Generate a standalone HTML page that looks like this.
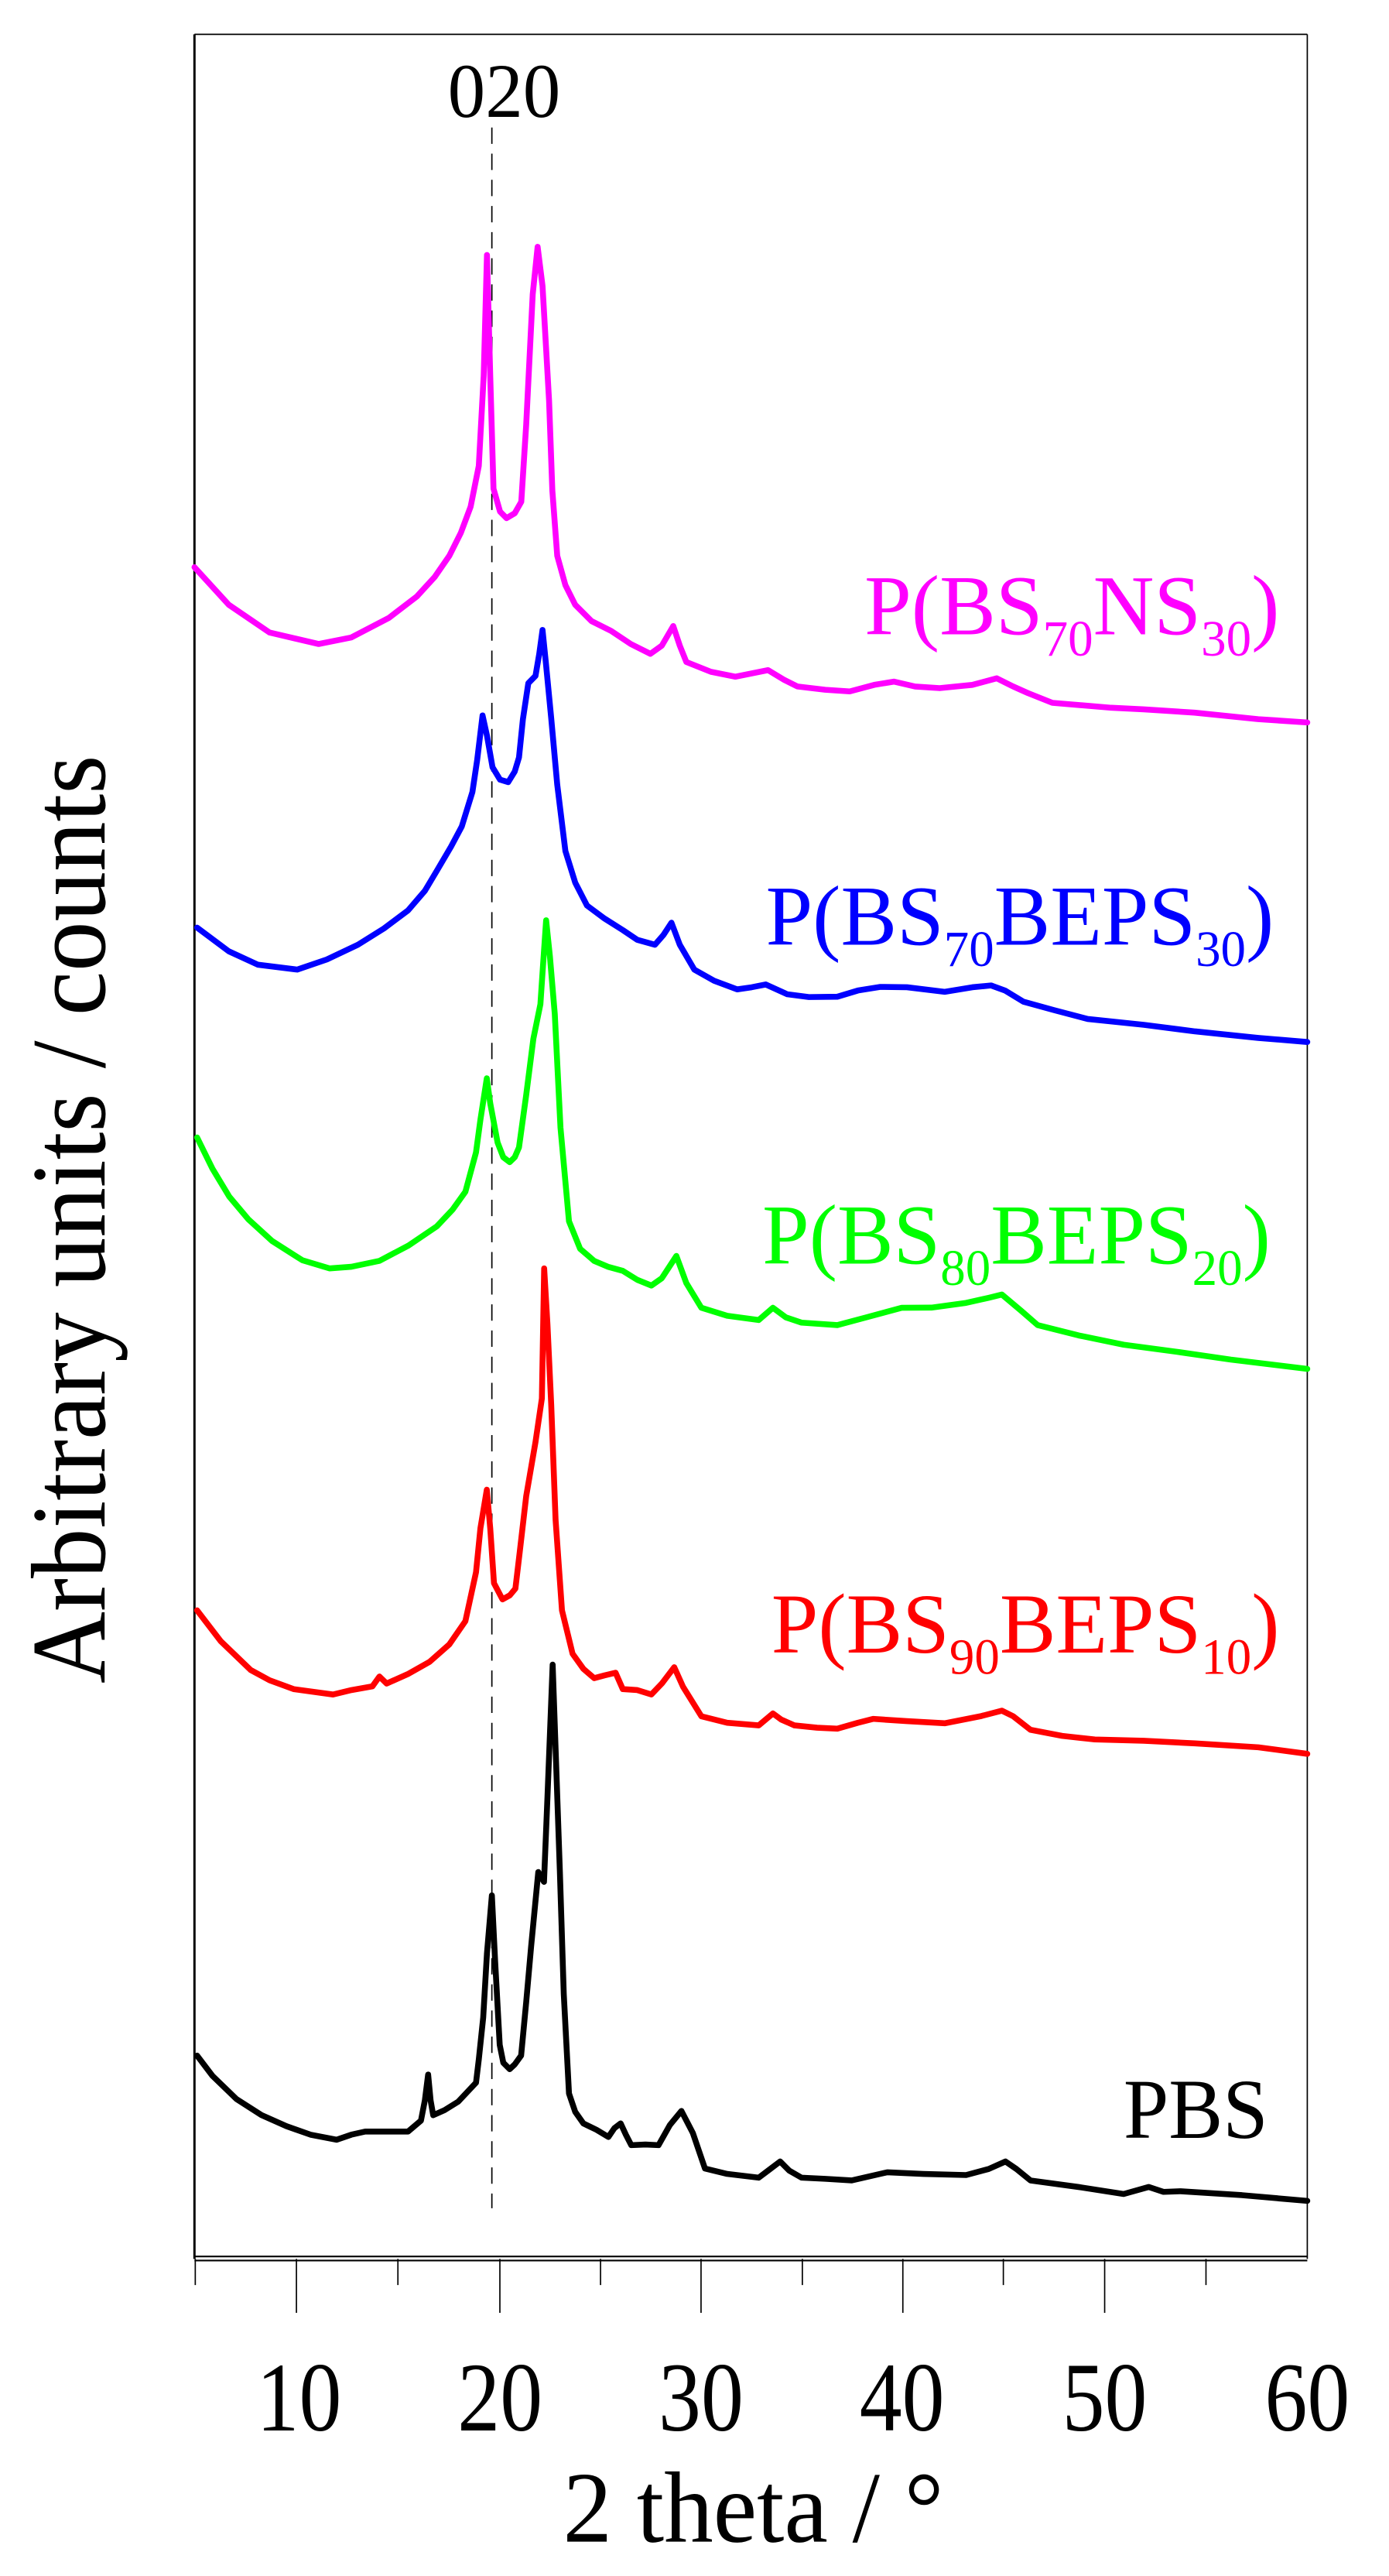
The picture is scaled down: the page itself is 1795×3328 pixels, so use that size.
<!DOCTYPE html>
<html><head><meta charset="utf-8"><style>
html,body{margin:0;padding:0;background:#fff;}
svg{display:block;}
text{font-family:"Liberation Serif","Times New Roman",serif;}
</style></head><body>
<svg width="1795" height="3328" viewBox="0 0 850 1576" preserveAspectRatio="none" xmlns="http://www.w3.org/2000/svg">
<rect width="850" height="1576" fill="#fff"/>
<!-- frame -->
<line x1="119" y1="21" x2="800" y2="21" stroke="#000" stroke-width="0.8"/>
<line x1="119" y1="21" x2="119" y2="1382" stroke="#000" stroke-width="1.4"/>
<line x1="800" y1="21" x2="800" y2="1382" stroke="#000" stroke-width="0.8"/>
<line x1="119" y1="1380.5" x2="800" y2="1380.5" stroke="#000" stroke-width="1"/>
<line x1="119" y1="1383" x2="800" y2="1383" stroke="#000" stroke-width="1"/>
<!-- ticks -->
<g stroke="#000" stroke-width="0.8">
<line x1="119.5" y1="1382" x2="119.5" y2="1398"/>
<line x1="181.4" y1="1382" x2="181.4" y2="1415"/>
<line x1="243.5" y1="1382" x2="243.5" y2="1398"/>
<line x1="305.9" y1="1382" x2="305.9" y2="1415"/>
<line x1="367.5" y1="1382" x2="367.5" y2="1398"/>
<line x1="429" y1="1382" x2="429" y2="1415"/>
<line x1="491" y1="1382" x2="491" y2="1398"/>
<line x1="552.5" y1="1382" x2="552.5" y2="1415"/>
<line x1="614" y1="1382" x2="614" y2="1398"/>
<line x1="676" y1="1382" x2="676" y2="1415"/>
<line x1="738" y1="1382" x2="738" y2="1398"/>
</g>
<g font-size="60" text-anchor="middle" fill="#000">
<text x="183" y="1487" textLength="52" lengthAdjust="spacingAndGlyphs">10</text>
<text x="306" y="1487" textLength="52" lengthAdjust="spacingAndGlyphs">20</text>
<text x="429" y="1487" textLength="52" lengthAdjust="spacingAndGlyphs">30</text>
<text x="552" y="1487" textLength="52" lengthAdjust="spacingAndGlyphs">40</text>
<text x="676" y="1487" textLength="52" lengthAdjust="spacingAndGlyphs">50</text>
<text x="800" y="1487" textLength="52" lengthAdjust="spacingAndGlyphs">60</text>
</g>
<text x="461" y="1555" font-size="62" text-anchor="middle" textLength="233" lengthAdjust="spacingAndGlyphs">2 theta / °</text>
<text transform="translate(64,746) rotate(-90)" font-size="65" text-anchor="middle" textLength="568" lengthAdjust="spacingAndGlyphs">Arbitrary units / counts</text>
<!-- 020 -->
<text x="308.5" y="71.5" font-size="47" text-anchor="middle" textLength="69" lengthAdjust="spacingAndGlyphs">020</text>
<line x1="301" y1="78" x2="301" y2="1351" stroke="#000" stroke-width="0.8" stroke-dasharray="10,6"/>
<!-- curves -->
<g fill="none" stroke-width="3.6" stroke-linejoin="round" stroke-linecap="round">
<polyline stroke="#ff00ff" points="119,347 140,370 165,387 195,394 215,390 238,378 255,365 266,353 275,340 282,326 288,310 293,285 296,230 298,156 300,230 302,299 306,313 310,317 315,314 319,307 322,260 326,180 329,151 332,175 336,245 338,300 341,340 346,358 352,370 362,380 374,386 386,394 398,400 405,395 412,383 416,395 420,405 435,411 450,414 460,412 470,410 480,416 488,420 505,422 520,423 535,419 547,417 560,420 575,421 595,419 610,415 620,420 629,424 644,430 680,433 700,434 731,436 770,440 800,442"/>
<polyline stroke="#0000ff" points="120.6,567.5 140,582 157.8,590.2 181.9,593.2 200,587 219,578 235,568 249.7,557 260,545 267.3,532.8 276,518 282.6,505.6 289.1,484.5 292,465 295.3,437.7 298,450 301.4,469.4 306,477 311,478.5 315,472 317.6,463.4 320,440 323.3,418 327.7,413.5 330,400 332,385.4 334,405 337.3,439.2 341,480 346,520.7 352,540 359.2,554 370,562 381.1,569 390,575 400.8,578 406,572 410.9,564.5 416,578 424.9,593.2 437,600 451.1,605.3 460,604 468.6,602.3 481.8,608.3 495,610 512.4,609.8 525,606 538.7,603.8 555,604 578.1,606.8 595,604 606.5,602.9 615,606 626.2,612.8 645,618 665.6,623.4 700,627 731.3,631 770,635 800,637.5"/>
<polyline stroke="#00ff00" points="120.6,695.9 130,715 140.3,732.1 152,746 166.6,759.3 185,771 201.6,776 215,775 232.2,771.4 250,762 267.3,750.3 277,740 284.8,729.1 291.3,705 294,685 297.9,659.7 300,675 304.5,699 308,708 311.9,711 315,708 317.6,702 322,670 326.4,635.5 330.7,614.4 332,595 334.2,563 336.5,585 339.5,620.4 343,690 348.2,747.2 355,764 363.6,771.4 372,775 381.1,777.5 390,783 398.6,786.5 405,782 413.9,768.4 420,785 429.2,800.1 445,805 464.3,807.6 473,800.1 481,806 490.5,809.2 512.4,810.7 530,806 551.8,800.1 570,800 591.2,797.1 605,794 613.1,792 625,802 635,810.7 660,817 687.6,822.7 720,827 753.2,831.8 800,837.5"/>
<polyline stroke="#ff0000" points="120.6,985.2 135,1004 153.4,1021.7 165,1028 179.7,1033.4 203.8,1036.7 215,1034 227.9,1031.7 232.2,1025.7 236.6,1030 250,1024 262.9,1016.7 275,1006 284.8,991.8 291.3,961.9 294,935 297.9,911.4 300,935 302.3,968.6 307.5,978.5 312,976 315.4,971.9 318,950 322,915.4 327.7,882.2 331.6,855.6 333,776 335,810 337.3,859 340,930 343.9,985.2 350.4,1011.8 357,1021 363.6,1026.7 370,1025 376.7,1023.4 381.1,1033.4 390,1034 398.6,1036.7 405,1030 412.6,1020 418,1032 429.2,1050 445,1054 464.3,1055.6 473,1048.3 478,1052 486.2,1055.6 500,1057 512.4,1057.6 525,1054 534.3,1051.6 555,1053 578.1,1054.3 600,1050 613.1,1046.6 620,1050 630.6,1058.3 650,1062 670,1064.2 700,1065 731.3,1066.6 770,1069 800,1073"/>
<polyline stroke="#000000" points="120.6,1257.6 130,1270 144.7,1284.2 160,1294 175.3,1300.8 190,1306 206,1309.1 215,1306 223.5,1304.1 249.7,1304.1 257.6,1297.4 260,1285 262,1269.2 263.5,1285 265.1,1294.1 272,1291 280.4,1285.8 291.3,1274.2 293,1260 295.7,1234.3 298,1195 301,1159.6 303,1200 305.8,1251 308,1262 311.9,1265.9 315,1263 318.9,1257.6 322,1225 325,1191.1 329.4,1145.3 332.9,1151.3 335,1100 338.2,1018.4 340,1070 342.6,1144.6 345,1220 348.2,1280.8 352,1292 357,1299.1 365,1303 372.3,1307.4 376,1302 379.8,1299.1 383,1306 386.3,1312.4 395,1312 403,1312.4 410,1300 417,1291.5 424,1305 431.4,1326.7 445,1330 464.3,1332.3 470,1328 477.4,1322.4 483,1328 490.5,1332.3 505,1333 521.2,1334 543,1329 565,1330 591.2,1330.7 605,1327 615.3,1322.4 622,1327 630.6,1334 660,1338 687.6,1342.3 702.9,1338 712,1341 722.5,1340.6 760,1343 800,1346.5"/>
</g>
<!-- legend labels -->
<text x="529" y="388" font-size="52" fill="#ff00ff" textLength="254" lengthAdjust="spacingAndGlyphs">P(BS<tspan font-size="31" dy="13">70</tspan><tspan dy="-13">NS</tspan><tspan font-size="31" dy="13">30</tspan><tspan dy="-13">)</tspan></text>
<text x="468.6" y="578" font-size="52" fill="#0000ff" textLength="311" lengthAdjust="spacingAndGlyphs">P(BS<tspan font-size="31" dy="13">70</tspan><tspan dy="-13">BEPS</tspan><tspan font-size="31" dy="13">30</tspan><tspan dy="-13">)</tspan></text>
<text x="466.5" y="773" font-size="52" fill="#00ff00" textLength="311" lengthAdjust="spacingAndGlyphs">P(BS<tspan font-size="31" dy="13">80</tspan><tspan dy="-13">BEPS</tspan><tspan font-size="31" dy="13">20</tspan><tspan dy="-13">)</tspan></text>
<text x="472" y="1011" font-size="52" fill="#ff0000" textLength="311" lengthAdjust="spacingAndGlyphs">P(BS<tspan font-size="31" dy="13">90</tspan><tspan dy="-13">BEPS</tspan><tspan font-size="31" dy="13">10</tspan><tspan dy="-13">)</tspan></text>
<text x="687.5" y="1308" font-size="52" fill="#000" textLength="88.5" lengthAdjust="spacingAndGlyphs">PBS</text>
</svg>
</body></html>
